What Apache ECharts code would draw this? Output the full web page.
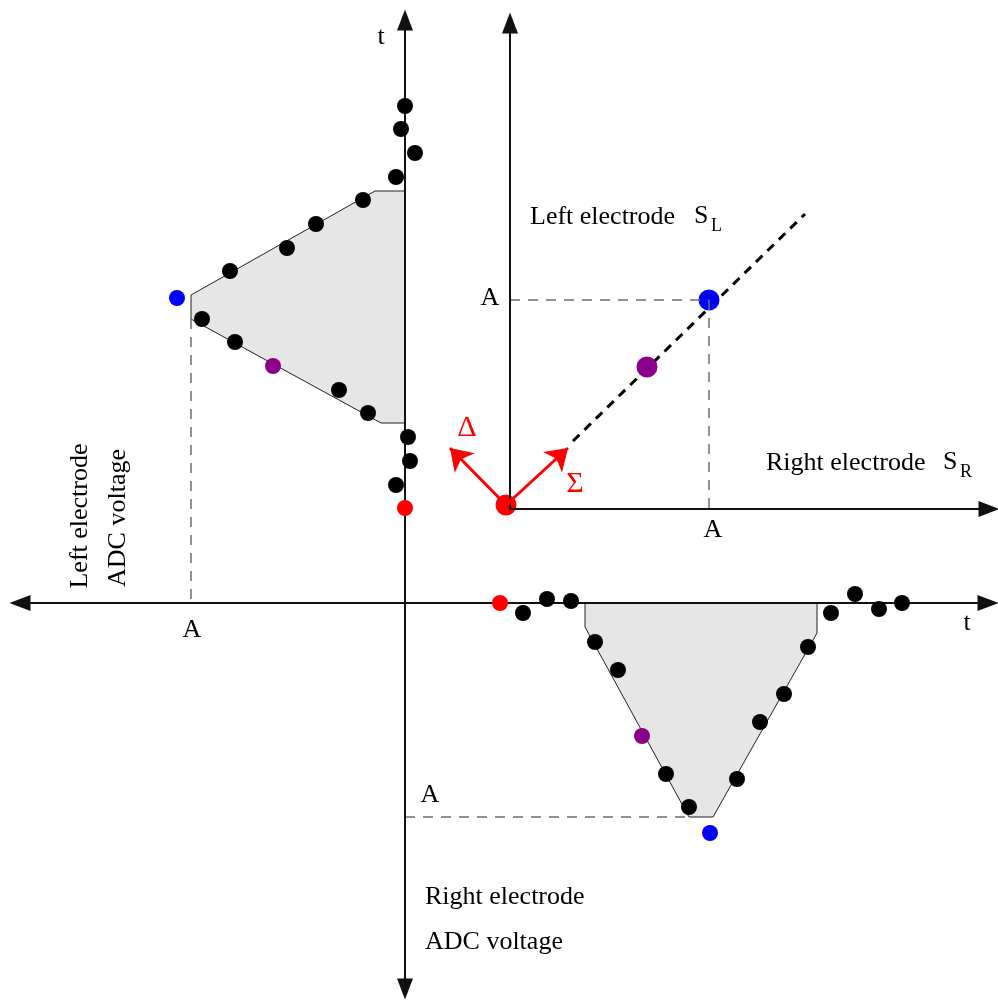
<!DOCTYPE html>
<html>
<head>
<meta charset="utf-8">
<title>Electrode ADC pulses and sum/difference plane</title>
<script src="https://cdn.jsdelivr.net/npm/echarts@6.0.0/dist/echarts.min.js"></script>
<style>
  html, body { margin: 0; padding: 0; background: #fff; }
  #chart { width: 998px; height: 1001px; }
</style>
</head>
<body>
<div id="chart"></div>
<script>
// ---- Pulse samples (time runs up the left axis and right along the bottom axis) ----
const sampleTimes  = [95, 118, 142, 166, 190, 213, 237, 261, 284, 305, 332, 355, 379, 403, 426, 450, 474, 497];
const leftVoltage  = [0, 9, -5, -3, 37, 66, 132, 170, 203, 228, 175, 118, 89, 42, 9, -10, 4, 0];
const rightVoltage = [0, 10, -4, -2, 39, 67, 133, 171, 204, 230, 176, 119, 91, 44, 10, -9, 6, 0];
// highlighted samples: baseline start, mid rise, peak
const highlightSamples = { 0: '#ff0000', 6: '#8b008b', 9: '#0000ff' };

// Shaping envelope of the pulse, as [t, V] pairs, and its flat-top amplitude A
const envelope = [[180, 0], [180, 24], [284, 214], [308, 214], [412, 30], [412, 0]];
const amplitude = 214;

// ---- S_R / S_L plane ----
const planeOrigin = [-4, 4];
const planePoints = [[-4, 4], [137, 142], [199, 209]];
const planeColors = ['#ff0000', '#8b008b', '#0000ff'];
const planeA = [199, 209];
const sigmaVector = [58, 61];
const deltaVector = [-60, 61];
const diagonalLine = [[63, 68], [295, 295]];

const FONT = '"Liberation Serif", "Times New Roman", serif';

// left electrode: voltage grows to the left, time goes up
const leftPulse = sampleTimes.map((t, i) => [-leftVoltage[i], t]);
// right electrode: time goes right, voltage grows downward
const rightPulse = sampleTimes.map((t, i) => [t, -rightVoltage[i]]);

function dotData(points) {
  return points.map((p, i) => ({
    value: p,
    itemStyle: { color: highlightSamples[i] || '#000', opacity: 1 }
  }));
}

function envelopeSeries(mapPoint) {
  return {
    type: 'custom',
    xAxisIndex: 0, yAxisIndex: 0,
    z: 1,
    silent: true,
    clip: false,
    data: [0],
    renderItem: (params, api) => ({
      type: 'polygon',
      shape: { points: envelope.map(([t, v]) => api.coord(mapPoint(t, v))) },
      style: { fill: '#e6e6e6', stroke: '#222', lineWidth: 1 }
    })
  };
}

function text(str, x, y, opts = {}) {
  const align = opts.align || 'center';
  return {
    type: 'text', x, y, z: 50,
    rotation: opts.rotation || 0,
    style: {
      text: str,
      fill: opts.color || '#000',
      fontSize: opts.size || 26,
      fontFamily: FONT,
      align, verticalAlign: 'middle',
      textAlign: align, textVerticalAlign: 'middle'
    }
  };
}

const hiddenBits = {
  axisTick: { show: false }, axisLabel: { show: false }, splitLine: { show: false }
};

const chart = echarts.init(document.getElementById('chart'), null, { renderer: 'canvas' });

chart.setOption({
  animation: false,
  backgroundColor: '#fff',
  grid: [
    { left: 20, right: 10, top: 20, bottom: 12 },
    { left: 510, right: 9, top: 23, bottom: 492 }
  ],
  xAxis: [
    Object.assign({
      gridIndex: 0, type: 'value', min: -385, max: 583, z: 2,
      axisLine: {
        show: true, onZero: true,
        symbol: ['triangle', 'triangle'], symbolSize: [16, 21],
        lineStyle: { color: '#111', width: 2 }
      }
    }, hiddenBits),
    Object.assign({
      gridIndex: 1, type: 'value', min: 0, max: 479, z: 5,
      axisLine: {
        show: true, onZero: false,
        symbol: ['none', 'triangle'], symbolSize: [16, 21],
        lineStyle: { color: '#111', width: 2 }
      }
    }, hiddenBits)
  ],
  yAxis: [
    Object.assign({
      gridIndex: 0, type: 'value', min: -386, max: 583, z: 2,
      axisLine: {
        show: true, onZero: true,
        symbol: ['triangle', 'triangle'], symbolSize: [16, 21],
        lineStyle: { color: '#111', width: 2 }
      }
    }, hiddenBits),
    Object.assign({
      gridIndex: 1, type: 'value', min: 0, max: 486, z: 5,
      axisLine: {
        show: true, onZero: false,
        symbol: ['none', 'triangle'], symbolSize: [16, 21],
        lineStyle: { color: '#111', width: 2 }
      }
    }, hiddenBits)
  ],
  series: [
    // pulse envelopes
    envelopeSeries((t, v) => [-v, t]),
    envelopeSeries((t, v) => [t, -v]),
    // amplitude guides on the pulse plots
    {
      type: 'lines', coordinateSystem: 'cartesian2d', xAxisIndex: 0, yAxisIndex: 0,
      z: 2, silent: true, clip: false,
      lineStyle: { color: '#6e6e6e', width: 1.5, type: [10, 8], opacity: 1 },
      data: [
        { coords: [[-amplitude, envelope[2][0]], [-amplitude, 0]] },
        { coords: [[0, -amplitude], [envelope[2][0], -amplitude]] }
      ]
    },
    // ADC samples
    {
      type: 'scatter', xAxisIndex: 0, yAxisIndex: 0, z: 3,
      symbol: 'circle', symbolSize: 16, clip: false,
      itemStyle: { opacity: 1 },
      data: dotData(leftPulse)
    },
    {
      type: 'scatter', xAxisIndex: 0, yAxisIndex: 0, z: 3,
      symbol: 'circle', symbolSize: 16, clip: false,
      itemStyle: { opacity: 1 },
      data: dotData(rightPulse)
    },
    // S_R / S_L plane: diagonal through the samples
    {
      type: 'lines', coordinateSystem: 'cartesian2d', xAxisIndex: 1, yAxisIndex: 1,
      z: 2, silent: true, clip: false,
      lineStyle: { color: '#000', width: 3, type: [9, 7], opacity: 1 },
      data: [{ coords: diagonalLine }]
    },
    {
      type: 'scatter', xAxisIndex: 1, yAxisIndex: 1, z: 3,
      symbol: 'circle', symbolSize: 21, clip: false,
      itemStyle: { opacity: 1 },
      data: planePoints.map((p, i) => ({ value: p, itemStyle: { color: planeColors[i], opacity: 1 } }))
    },
    {
      type: 'lines', coordinateSystem: 'cartesian2d', xAxisIndex: 1, yAxisIndex: 1,
      z: 4, silent: true, clip: false,
      lineStyle: { color: '#6e6e6e', width: 1.5, type: [10, 8], opacity: 1 },
      data: [
        { coords: [[0, planeA[1]], [planeA[0], planeA[1]]] },
        { coords: [[planeA[0], planeA[1]], [planeA[0], 0]] }
      ]
    },
    // sum and difference directions
    {
      type: 'lines', coordinateSystem: 'cartesian2d', xAxisIndex: 1, yAxisIndex: 1,
      z: 6, silent: true, clip: false,
      symbol: ['none', 'arrow'], symbolSize: 21,
      lineStyle: { color: '#ff0000', width: 3, opacity: 1 },
      data: [
        { coords: [planeOrigin, sigmaVector] },
        { coords: [planeOrigin, deltaVector] }
      ]
    }
  ],
  graphic: [
    text('t', 381, 37),
    text('t', 967, 623),
    text('A', 192, 630),
    text('A', 430, 795),
    text('A', 490, 298),
    text('A', 713, 530),
    text('Left electrode', 530, 217, { align: 'left' }),
    text('S', 694, 216, { align: 'left' }),
    text('L', 711, 226, { align: 'left', size: 18 }),
    text('Right electrode', 766, 463, { align: 'left' }),
    text('S', 943, 462, { align: 'left' }),
    text('R', 960, 472, { align: 'left', size: 18 }),
    text('Δ', 467, 428, { color: '#ff0000', size: 30 }),
    text('Σ', 575, 484, { color: '#ff0000', size: 30 }),
    text('Right electrode', 425, 897, { align: 'left' }),
    text('ADC voltage', 425, 942, { align: 'left' }),
    text('Left electrode', 80, 516, { rotation: Math.PI / 2 }),
    text('ADC voltage', 118, 518, { rotation: Math.PI / 2 })
  ]
});
</script>
</body>
</html>
